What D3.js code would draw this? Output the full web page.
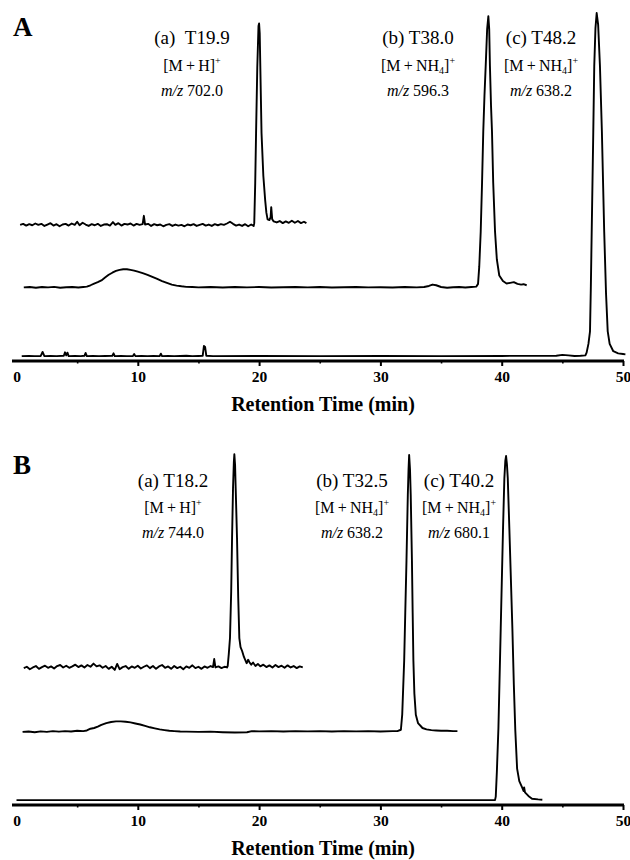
<!DOCTYPE html>
<html>
<head>
<meta charset="utf-8">
<script src="https://cdn.jsdelivr.net/npm/d3@7"></script>
<style>
  body { margin: 0; background: #fff; }
  svg { display: block; }
  text { font-family: "Liberation Serif", "Times New Roman", serif; fill: #000; }
</style>
</head>
<body>
<script>
(function () {

    //axis ticks (retention time, min)
    var xTicks = [0, 10, 20, 30, 40, 50];
    var xMinor = [5, 15, 25, 35, 45];
    var axisTitle = "Retention Time (min)";

    //peak labels
    var titlesA = ["(a)\u00a0\u00a0T19.9", "(b) T38.0", "(c) T48.2"];
    var ionsA = ["H", "NH4", "NH4"];
    var mzA = ["702.0", "596.3", "638.2"];
    var titlesB = ["(a) T18.2", "(b) T32.5", "(c) T40.2"];
    var ionsB = ["H", "NH4", "NH4"];
    var mzB = ["744.0", "638.2", "680.1"];

    //baseline offset of each trace (stacked display, same units as intensity)
    var offsetsA = [39.0, 21.1, 1.4];
    var offsetsB = [39.1, 20.9, 1.4];

    //panel A traces: [time, relative intensity]
    var traceAa = [[0.3,0.0],[0.55,0.3],[0.8,-0.2],[1.05,0.2],[1.3,-0.1],[1.55,0.4],[1.8,0.0],[2.05,0.3],[2.3,-0.3],[2.55,0.1],
        [2.8,0.5],[3.05,-0.2],[3.3,0.2],[3.55,-0.4],[3.8,0.1],[4.05,0.3],[4.3,-0.2],[4.55,0.4],[4.8,0.0],[5.0,0.9],
        [5.2,-0.1],[5.45,0.6],[5.7,0.1],[5.95,-0.3],[6.2,0.2],[6.45,-0.1],[6.7,0.3],[6.95,-0.3],[7.2,0.1],[7.45,0.2],
        [7.7,-0.2],[7.95,0.8],[8.15,0.0],[8.4,0.5],[8.65,-0.2],[8.9,0.3],[9.15,0.1],[9.4,0.4],[9.65,-0.2],[9.9,0.3],
        [10.15,0.0],[10.4,0.2],[10.5,2.6],[10.6,0.1],[10.85,0.3],[11.1,-0.3],[11.35,0.2],[11.6,-0.1],[11.85,0.1],[12.1,-0.4],
        [12.35,0.0],[12.6,0.2],[12.85,-0.3],[13.1,0.1],[13.35,-0.2],[13.6,0.0],[13.85,-0.4],[14.1,0.1],[14.35,-0.1],[14.6,0.2],
        [14.85,-0.3],[15.1,0.0],[15.35,0.3],[15.6,-0.2],[15.85,0.1],[16.1,-0.3],[16.35,0.2],[16.6,-0.1],[16.85,0.2],[17.1,0.0],
        [17.35,0.4],[17.6,0.9],[17.85,0.3],[18.1,-0.2],[18.35,0.1],[18.6,-0.3],[18.85,0.2],[19.1,-0.4],[19.35,0.1],[19.55,-0.3],
        [19.6,0.5],[19.68,12],[19.75,26.3],[19.85,45.1],[19.95,57.0],[20.0,57.7],[20.05,55],[20.2,26.3],[20.35,14],[20.5,7.1],
        [20.6,3.5],[20.7,1.6],[20.85,1.4],[20.95,2.2],[21.0,5.1],[21.08,1.6],[21.2,1.0],[21.45,0.7],[21.7,1.1],[21.95,0.5],
        [22.2,1.0],[22.45,0.6],[22.7,1.2],[22.95,0.6],[23.2,1.1],[23.45,0.5],[23.7,0.9],[23.9,0.5]];

    var traceAb = [[0.6,0],[1.1,0.1],[1.6,-0.1],[2.1,0.1],[2.6,0],[3.1,0.15],[3.6,-0.1],[4.1,0.05],[4.6,0.1],[5.1,-0.05],
        [5.5,0.1],[5.8,0.2],[6.1,0.6],[6.4,1.1],[6.7,1.5],[7.0,2.0],[7.3,2.8],[7.6,3.6],[7.9,4.2],[8.2,4.7],
        [8.5,5.0],[8.8,5.2],[9.1,5.2],[9.4,5.0],[9.7,4.8],[10.0,4.5],[10.4,4.1],[10.8,3.6],[11.2,3.0],[11.6,2.4],
        [12.0,1.8],[12.4,1.3],[12.8,0.8],[13.2,0.5],[13.6,0.3],[14.0,0.15],[14.5,0.1],[15,0],[16,0.1],[17,-0.05],
        [18,0.1],[19,0],[20,0.1],[21,-0.05],[22,0.05],[23,0.1],[24,0],[25,0.1],[26,-0.05],[27,0.05],
        [28,0.1],[29,0],[30,0.05],[31,-0.05],[32,0.1],[33,0],[33.6,0.1],[34.0,0.4],[34.3,0.8],[34.6,0.6],
        [35.0,0.1],[35.5,-0.1],[36,0.05],[36.5,0.1],[37,-0.05],[37.5,0.1],[37.9,0.2],[38.05,1.0],[38.15,6],[38.27,16],
        [38.38,30],[38.48,44.6],[38.58,55],[38.68,63.4],[38.8,74],[38.9,77.7],[38.97,74],[39.03,63.4],[39.12,52],[39.2,44.6],
        [39.3,30],[39.45,16],[39.6,8],[39.8,3.4],[40.1,1.8],[40.4,1.1],[40.7,1.3],[41.0,1.5],[41.3,1.0],[41.6,0.8],
        [41.8,0.9],[42.06,0.6]];

    var traceAc = [[0.43,0],[1.0,0.05],[1.5,0],[2.0,0.05],[2.15,1.2],[2.3,0],[2.8,0.05],[3.3,0],[3.9,0.1],[4.0,1.1],
        [4.1,0.2],[4.2,1.0],[4.3,0],[4.8,0.05],[5.3,0],[5.6,0.1],[5.7,0.9],[5.8,0],[6.3,0.05],[6.8,0],
        [7.3,0.05],[7.9,0.1],[8.0,0.8],[8.1,0],[8.6,0.05],[9.1,0],[9.6,0.05],[9.7,0.6],[9.8,0],[10.3,0.05],
        [10.8,0],[11.3,0.05],[11.8,0],[11.9,0.7],[12.0,0],[12.5,0.05],[13.0,0],[13.5,0.05],[14.0,0.1],[14.5,0],
        [15.0,0.05],[15.35,0.1],[15.45,2.9],[15.55,2.6],[15.65,0.1],[16.2,0],[20,0.05],[25,0],[30,0.05],[35,0],
        [40,0.05],[44.5,0.1],[45,0.35],[45.5,0.2],[46,0.05],[46.5,0.1],[46.9,0.2],[47.0,1.0],[47.15,3.5],[47.28,7.1],
        [47.35,20],[47.42,35.7],[47.55,64.3],[47.63,83.1],[47.73,94],[47.83,98.3],[47.95,95],[48.1,83.1],[48.26,64.3],[48.45,35.7],
        [48.6,18],[48.74,7.1],[48.9,3.5],[49.2,1.4],[49.6,0.8],[50.0,0.6],[50.2,0.5]];

    //panel B traces: [time, relative intensity]
    var traceBa = [[0.6,0],[0.85,0.4],[1.1,-0.3],[1.35,0.2],[1.6,0.6],[1.85,-0.2],[2.1,0.3],[2.35,0.7],[2.6,0.1],[2.85,0.5],
        [3.1,-0.1],[3.35,0.6],[3.6,0.9],[3.85,0.2],[4.1,0.7],[4.35,0.1],[4.6,0.5],[4.85,1.0],[5.1,0.3],[5.35,0.8],
        [5.6,0.2],[5.85,0.9],[6.1,0.4],[6.35,1.3],[6.6,0.5],[6.85,0.8],[7.1,0.1],[7.35,0.6],[7.6,-0.2],[7.85,0.4],
        [8.1,-0.5],[8.3,1.2],[8.5,-0.3],[8.75,0.3],[9.0,0.6],[9.25,-0.2],[9.5,0.5],[9.75,0.1],[10.0,0.7],[10.25,-0.1],
        [10.5,0.4],[10.75,0.8],[11.0,0.0],[11.25,0.6],[11.5,-0.2],[11.75,0.5],[12.0,0.9],[12.25,0.1],[12.5,0.5],[12.75,-0.2],
        [13.0,0.6],[13.25,0.0],[13.5,0.4],[13.75,-0.3],[14.0,0.5],[14.25,0.1],[14.5,0.8],[14.75,0.0],[15.0,0.4],[15.25,-0.2],
        [15.5,0.5],[15.75,0.1],[16.0,0.6],[16.2,0.3],[16.3,2.6],[16.4,0.2],[16.65,0.5],[16.9,0.0],[17.15,0.4],[17.35,0.2],
        [17.41,0.6],[17.5,4],[17.6,8.6],[17.7,22],[17.77,37.1],[17.85,51.4],[17.92,59],[17.96,61.1],[18.02,58],[18.07,51.4],
        [18.18,37.1],[18.28,20],[18.37,8.6],[18.47,6.0],[18.6,4.9],[18.75,3.2],[18.97,1.4],[19.1,2.4],[19.2,1.7],[19.35,1.0],
        [19.5,1.6],[19.7,0.6],[19.9,1.2],[20.1,0.5],[20.35,1.0],[20.6,0.3],[20.85,0.8],[21.1,0.2],[21.35,0.9],[21.6,0.3],
        [21.85,0.7],[22.1,0.1],[22.35,0.8],[22.6,0.2],[22.85,0.6],[23.1,0.0],[23.35,0.5],[23.6,0.2]];

    var traceBb = [[0.5,0],[1.0,0.1],[1.5,-0.1],[2.0,0.15],[2.5,0],[3.0,0.2],[3.5,0.05],[4.0,0.2],[4.5,0.1],[5.0,0.3],
        [5.5,0.2],[5.8,0.4],[6.1,0.9],[6.4,1.1],[6.7,1.5],[7.0,2.0],[7.4,2.5],[7.8,2.8],[8.2,3.0],[8.6,3.0],
        [9.0,2.9],[9.4,2.7],[9.8,2.4],[10.2,2.1],[10.6,1.7],[11.0,1.3],[11.4,1.0],[11.8,0.7],[12.2,0.5],[12.6,0.3],
        [13.0,0.2],[13.5,0.1],[14,0.05],[15,0],[16,0.05],[17,-0.1],[18,-0.2],[19,-0.1],[19.4,0.2],[20,0.15],
        [21,0.2],[22,0.1],[23,0.2],[24,0.15],[25,0.2],[26,0.1],[27,0.2],[28,0.15],[29,0.2],[30,0.1],
        [31,0.2],[31.4,0.2],[31.69,0.6],[31.8,5],[31.96,20.3],[32.05,34],[32.15,48.9],[32.26,67.7],[32.32,75],[32.37,79.1],
        [32.44,75],[32.5,67.7],[32.6,48.9],[32.66,34],[32.72,20.3],[32.8,11],[32.92,4.9],[33.1,2.5],[33.47,1.1],[33.8,0.7],
        [34.2,0.5],[34.6,0.4],[35.0,0.3],[35.5,0.3],[36.0,0.2],[36.35,0.2]];

    var traceBc = [[0,0],[39.45,0],[39.51,1],[39.6,8],[39.73,20.6],[39.92,49.1],[40.11,77.7],[40.22,92],[40.3,97],[40.36,98.3],
        [40.43,96],[40.5,92],[40.63,77.7],[40.88,49.1],[41.0,33],[41.12,20],[41.27,9],[41.45,5.4],[41.7,3.5],[41.8,2.6],
        [41.85,3.6],[41.92,2.2],[42.2,1.2],[42.5,0.4],[43.0,0.2],[43.35,0.1]];

    //begin script when window loads
    window.onload = drawFigure();

    function drawFigure() {

        var width = 630,
            height = 860;

        var svg = d3.select("body")
            .append("svg")
            .attr("width", width)
            .attr("height", height);

        //panel A
        drawPanel(svg, {
            letter: "A", letterY: 36,
            axisY: 361, topY: 12,
            traces: [traceAa, traceAb, traceAc], offsets: offsetsA,
            titles: titlesA, ions: ionsA, mz: mzA,
            labelX: [192, 418, 541], labelY: [44, 71, 96]
        });

        //panel B
        drawPanel(svg, {
            letter: "B", letterY: 474,
            axisY: 805, topY: 455,
            traces: [traceBa, traceBb, traceBc], offsets: offsetsB,
            titles: titlesB, ions: ionsB, mz: mzB,
            labelX: [173, 352, 459], labelY: [487, 513, 538]
        });
    }

    function drawPanel(svg, p) {

        var x = d3.scaleLinear()
            .domain([0, 50])
            .range([16.5, 623]);

        var y = d3.scaleLinear()
            .domain([0, 100])
            .range([p.axisY, p.topY]);

        var g = svg.append("g").attr("class", "panel");

        //chromatogram traces
        p.traces.forEach(function (trace, i) {
            var line = d3.line()
                .x(function (d) { return x(d[0]); })
                .y(function (d) { return y(p.offsets[i] + d[1]); });

            g.append("path")
                .datum(trace)
                .attr("d", line)
                .attr("fill", "none")
                .attr("stroke", "#000")
                .attr("stroke-width", 1.9)
                .attr("stroke-linejoin", "round");
        });

        //bottom axis, major ticks
        var xAxis = d3.axisBottom(x)
            .tickValues(xTicks)
            .tickSize(5)
            .tickSizeOuter(0)
            .tickPadding(5)
            .tickFormat(d3.format("d"));

        var axis = g.append("g")
            .attr("class", "axis")
            .attr("transform", "translate(0," + p.axisY + ")")
            .call(xAxis);

        axis.select(".domain")
            .attr("d", "M" + (x(0) - 4.5) + ",0H" + (x(50) + 1))
            .attr("stroke", "#000")
            .attr("stroke-width", 2.8);

        axis.selectAll(".tick line")
            .attr("stroke-width", 2)
            .filter(function (d) { return d === 0; })
            .remove();

        axis.selectAll(".tick text")
            .attr("font-family", "'Liberation Serif', 'Times New Roman', serif")
            .attr("font-size", 15.5)
            .attr("font-weight", "bold")
            .attr("fill", "#000");

        //minor ticks
        var minorAxis = d3.axisBottom(x)
            .tickValues(xMinor)
            .tickSize(2.5)
            .tickSizeOuter(0)
            .tickFormat("");

        var minor = g.append("g")
            .attr("transform", "translate(0," + p.axisY + ")")
            .call(minorAxis);
        minor.select(".domain").remove();
        minor.selectAll(".tick line").attr("stroke-width", 1.6);

        //axis title
        g.append("text")
            .attr("x", 323)
            .attr("y", p.axisY + 50)
            .attr("text-anchor", "middle")
            .attr("font-size", 20)
            .attr("font-weight", "bold")
            .text(axisTitle);

        //panel letter
        g.append("text")
            .attr("x", 13)
            .attr("y", p.letterY)
            .attr("font-size", 27)
            .attr("font-weight", "bold")
            .text(p.letter);

        //peak labels
        p.titles.forEach(function (t, i) {
            var cx = p.labelX[i];

            g.append("text")
                .attr("x", cx)
                .attr("y", p.labelY[0])
                .attr("text-anchor", "middle")
                .attr("font-size", 19)
                .text(t);

            var ion = g.append("text")
                .attr("x", cx)
                .attr("y", p.labelY[1])
                .attr("text-anchor", "middle")
                .attr("font-size", 16);
            if (p.ions[i] === "H") {
                ion.append("tspan").text("[M\u2009+\u2009H]");
            } else {
                ion.append("tspan").text("[M\u2009+\u2009NH");
                ion.append("tspan").attr("font-size", 10).attr("dy", 3).text("4");
                ion.append("tspan").attr("dy", -3).text("]");
            }
            ion.append("tspan").attr("font-size", 10).attr("dy", -7).text("+");

            var mz = g.append("text")
                .attr("x", cx)
                .attr("y", p.labelY[2])
                .attr("text-anchor", "middle")
                .attr("font-size", 16);
            mz.append("tspan").attr("font-style", "italic").text("m/z");
            mz.append("tspan").text(" " + p.mz[i]);
        });
    }

})();
</script>
</body>
</html>
